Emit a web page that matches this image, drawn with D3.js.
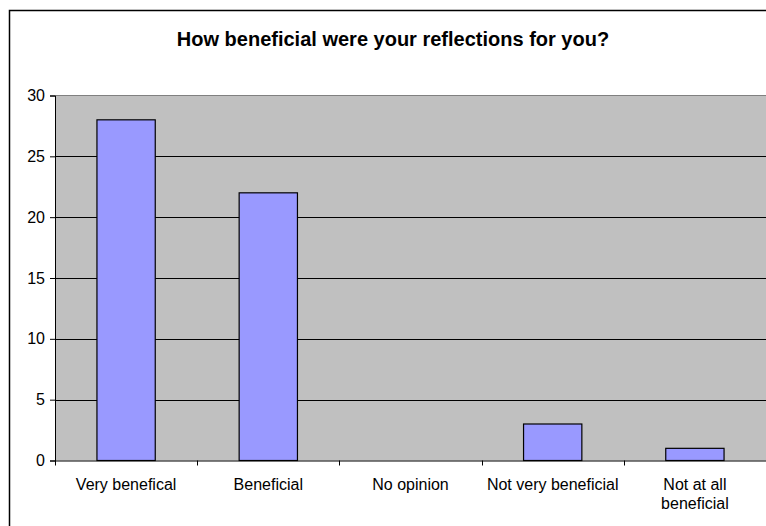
<!DOCTYPE html>
<html>
<head>
<meta charset="utf-8">
<script src="https://cdn.jsdelivr.net/npm/d3@7"></script>
<style>
  html, body { margin: 0; padding: 0; background: #ffffff; }
  svg { display: block; font-family: "Liberation Sans", Arial, sans-serif; }
</style>
</head>
<body>
<svg id="chart" width="766" height="526"></svg>
<script>
// Survey responses
const categories = ["Very benefical", "Beneficial", "No opinion", "Not very beneficial", "Not at all beneficial"];
const counts = [28, 22, 0, 3, 1];
const yTicks = [0, 5, 10, 15, 20, 25, 30];
const titleText = "How beneficial were your reflections for you?";

const svg = d3.select("#chart");
const W = 766, H = 526;
const plot = { left: 55, top: 95.5, right: 766, bottom: 460.5 };
const labelFont = 16;

// Outer chart frame
svg.append("rect")
  .attr("x", 9.5).attr("y", 10.5)
  .attr("width", W + 20).attr("height", H + 20)
  .attr("fill", "#ffffff").attr("stroke", "#000000").attr("stroke-width", 1.5);

// Title
svg.append("text")
  .attr("x", 393).attr("y", 46)
  .attr("text-anchor", "middle")
  .attr("font-size", 20).attr("font-weight", "bold")
  .attr("fill", "#000")
  .text(titleText);

const x = d3.scaleBand()
  .domain(categories)
  .range([plot.left, plot.right])
  .paddingInner(0.59)
  .paddingOuter(0.295);

const y = d3.scaleLinear()
  .domain([0, 30])
  .range([plot.bottom, plot.top]);

// Plot background
svg.append("rect")
  .attr("x", plot.left).attr("y", plot.top)
  .attr("width", plot.right - plot.left).attr("height", plot.bottom - plot.top)
  .attr("fill", "#c0c0c0");

// Plot top border
svg.append("line")
  .attr("x1", plot.left).attr("x2", plot.right)
  .attr("y1", plot.top).attr("y2", plot.top)
  .attr("stroke", "#808080").attr("stroke-width", 1);

// Horizontal gridlines
svg.append("g")
  .selectAll("line")
  .data(yTicks.filter(t => t > 0 && t < 30))
  .join("line")
  .attr("x1", plot.left).attr("x2", plot.right)
  .attr("y1", d => Math.round(y(d)) + 0.5).attr("y2", d => Math.round(y(d)) + 0.5)
  .attr("stroke", "#000").attr("stroke-width", 1);

// Bars
svg.append("g")
  .selectAll("rect")
  .data(categories.map((c, i) => ({ c, v: counts[i] })).filter(d => d.v > 0))
  .join("rect")
  .attr("x", d => x(d.c))
  .attr("y", d => y(d.v))
  .attr("width", x.bandwidth())
  .attr("height", d => y(0) - y(d.v))
  .attr("fill", "#9999ff")
  .attr("stroke", "#000").attr("stroke-width", 1.2);

// Y axis
const yAxis = svg.append("g")
  .attr("transform", `translate(${plot.left},0)`)
  .call(d3.axisLeft(y).tickValues(yTicks).tickSize(5).tickPadding(5).tickFormat(d3.format("d")));
yAxis.select(".domain").attr("stroke", "#000");
yAxis.selectAll(".tick line").attr("stroke", "#000");
yAxis.selectAll("text").attr("font-size", labelFont).attr("font-family", "Liberation Sans, Arial, sans-serif").attr("fill", "#000");

// X axis with labels at band centres
const xAxis = svg.append("g")
  .attr("transform", `translate(0,${plot.bottom})`)
  .call(d3.axisBottom(x).tickSize(0).tickPadding(18));
xAxis.select(".domain").attr("stroke", "#000");
xAxis.selectAll("text")
  .attr("font-size", labelFont).attr("font-family", "Liberation Sans, Arial, sans-serif").attr("fill", "#000")
  .call(wrap, 134);

// Category boundary ticks
const step = x.step();
svg.append("g")
  .selectAll("line")
  .data(d3.range(categories.length + 1))
  .join("line")
  .attr("x1", i => Math.round(plot.left + i * step) + 0.5)
  .attr("x2", i => Math.round(plot.left + i * step) + 0.5)
  .attr("y1", plot.bottom).attr("y2", plot.bottom + 5)
  .attr("stroke", "#000");

function wrap(sel, width) {
  sel.each(function () {
    const t = d3.select(this);
    const words = t.text().split(/\s+/);
    const yy = t.attr("y"), dy = parseFloat(t.attr("dy")) || 0;
    t.text(null);
    let line = [], lineNo = 0;
    let ts = t.append("tspan").attr("x", 0).attr("y", yy).attr("dy", dy + "em");
    for (const w of words) {
      line.push(w);
      ts.text(line.join(" "));
      if (ts.node().getComputedTextLength() > width && line.length > 1) {
        line.pop();
        ts.text(line.join(" "));
        line = [w];
        lineNo++;
        ts = t.append("tspan").attr("x", 0).attr("y", yy)
          .attr("dy", (dy + lineNo * 1.21) + "em").text(w);
      }
    }
  });
}
</script>
</body>
</html>
